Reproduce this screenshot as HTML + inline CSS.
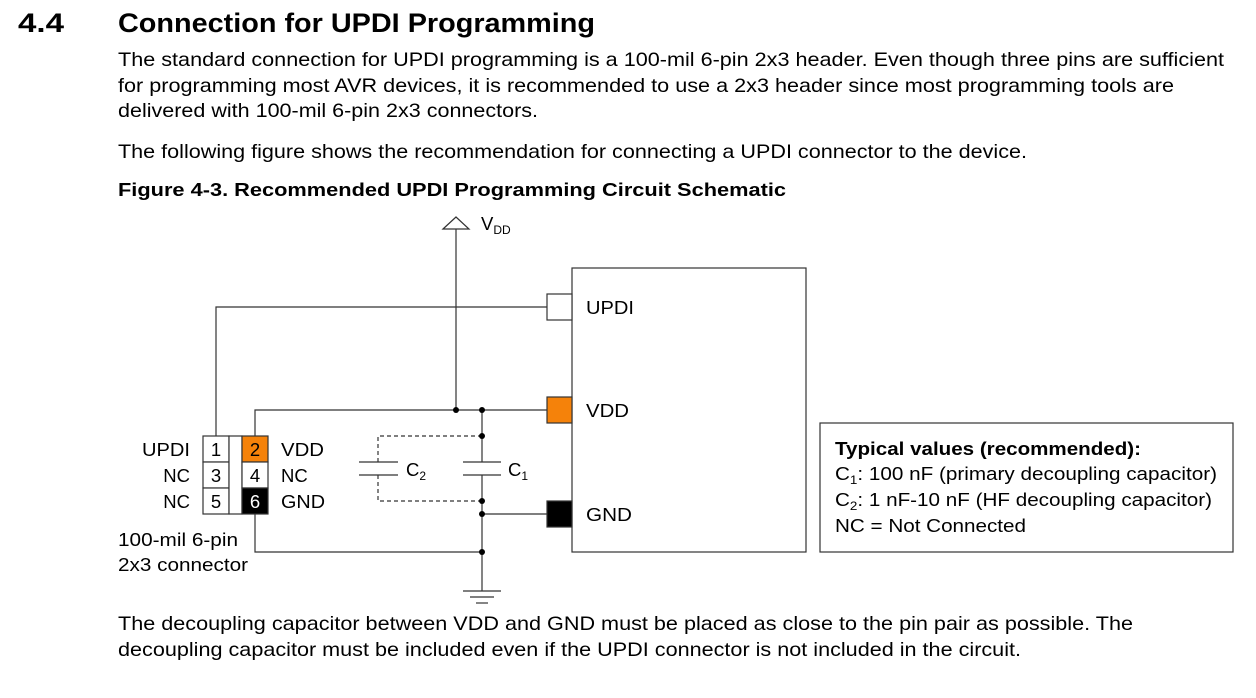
<!DOCTYPE html>
<html><head><meta charset="utf-8"><style>
html,body{margin:0;padding:0;background:#fff;}
svg{display:block;font-family:"Liberation Sans",Arial,sans-serif;}
</style></head><body>
<svg width="1256" height="698" viewBox="0 0 1256 698" xmlns="http://www.w3.org/2000/svg">
<g fill="#000">
<text x="18" y="32" font-size="27" font-weight="bold" textLength="46" lengthAdjust="spacingAndGlyphs">4.4</text>
<text x="118" y="32" font-size="27" font-weight="bold" textLength="477" lengthAdjust="spacingAndGlyphs">Connection for UPDI Programming</text>
<g font-size="19.5">
<text x="118" y="66" textLength="1106" lengthAdjust="spacingAndGlyphs">The standard connection for UPDI programming is a 100-mil 6-pin 2x3 header. Even though three pins are sufficient</text>
<text x="118" y="92" textLength="1056" lengthAdjust="spacingAndGlyphs">for programming most AVR devices, it is recommended to use a 2x3 header since most programming tools are</text>
<text x="118" y="117" textLength="420" lengthAdjust="spacingAndGlyphs">delivered with 100-mil 6-pin 2x3 connectors.</text>
<text x="118" y="158" textLength="909" lengthAdjust="spacingAndGlyphs">The following figure shows the recommendation for connecting a UPDI connector to the device.</text>
<text x="118" y="630" textLength="1015" lengthAdjust="spacingAndGlyphs">The decoupling capacitor between VDD and GND must be placed as close to the pin pair as possible. The</text>
<text x="118" y="656" textLength="903" lengthAdjust="spacingAndGlyphs">decoupling capacitor must be included even if the UPDI connector is not included in the circuit.</text>
</g>
<text x="118" y="196" font-size="18.5" font-weight="bold" textLength="668" lengthAdjust="spacingAndGlyphs">Figure 4-3.  Recommended UPDI Programming Circuit Schematic</text>
</g>
<g stroke="#333" stroke-width="1.2" fill="none">
<polygon points="443,229 456,217 469,229" fill="#fff"/>
<line x1="456" y1="229" x2="456" y2="410"/>
<polyline points="216,436 216,307 547,307"/>
<polyline points="255,436 255,410 547,410"/>
<polyline points="255,514 255,552 482,552"/>
<line x1="482" y1="410" x2="482" y2="462"/>
<line x1="482" y1="475" x2="482" y2="591"/>
<line x1="482" y1="514" x2="547" y2="514"/>
<line x1="463" y1="462" x2="501" y2="462"/>
<line x1="463" y1="475" x2="501" y2="475"/>
<line x1="359" y1="462" x2="398" y2="462"/>
<line x1="359" y1="475" x2="398" y2="475"/>
<g stroke-dasharray="4,3">
<polyline points="482,436 378,436 378,462"/>
<polyline points="482,501 378,501 378,475"/>
</g>
<line x1="463" y1="591" x2="501" y2="591"/>
<line x1="470" y1="597" x2="494" y2="597"/>
<line x1="476" y1="603" x2="488" y2="603"/>
<rect x="572" y="268" width="234" height="284" fill="#fff"/>
<rect x="547" y="294" width="25" height="26" fill="#fff"/>
<rect x="547" y="397" width="25" height="26" fill="#f5820a"/>
<rect x="547" y="501" width="25" height="26" fill="#000"/>
<rect x="820" y="423" width="413" height="129"/>
<rect x="203" y="436" width="26" height="26" fill="#fff"/>
<rect x="203" y="462" width="26" height="26" fill="#fff"/>
<rect x="203" y="488" width="26" height="26" fill="#fff"/>
<rect x="229" y="436" width="13" height="78" fill="#fff"/>
<rect x="242" y="436" width="26" height="26" fill="#f5820a"/>
<rect x="242" y="462" width="26" height="26" fill="#fff"/>
<rect x="242" y="488" width="26" height="26" fill="#000"/>
</g>
<g fill="#000">
<circle cx="456" cy="410" r="3"/><circle cx="482" cy="410" r="3"/>
<circle cx="482" cy="436" r="3"/><circle cx="482" cy="501" r="3"/>
<circle cx="482" cy="514" r="3"/><circle cx="482" cy="552" r="3"/>
</g>
<g font-size="18.5" fill="#000">
<text x="481" y="230">V<tspan font-size="12" dy="4">DD</tspan></text>
<text x="142" y="456" textLength="48" lengthAdjust="spacingAndGlyphs">UPDI</text>
<text x="190" y="482" text-anchor="end">NC</text>
<text x="190" y="508" text-anchor="end">NC</text>
<text x="216" y="456" text-anchor="middle">1</text>
<text x="216" y="482" text-anchor="middle">3</text>
<text x="216" y="508" text-anchor="middle">5</text>
<text x="255" y="456" text-anchor="middle">2</text>
<text x="255" y="482" text-anchor="middle">4</text>
<text x="255" y="508" text-anchor="middle" fill="#fff">6</text>
<text x="281" y="456" textLength="43" lengthAdjust="spacingAndGlyphs">VDD</text>
<text x="281" y="482">NC</text>
<text x="281" y="508" textLength="44" lengthAdjust="spacingAndGlyphs">GND</text>
<text x="118" y="546" textLength="120" lengthAdjust="spacingAndGlyphs">100-mil 6-pin</text>
<text x="118" y="571" textLength="130" lengthAdjust="spacingAndGlyphs">2x3 connector</text>
<text x="406" y="476">C<tspan font-size="12" dy="4">2</tspan></text>
<text x="508" y="476">C<tspan font-size="12" dy="4">1</tspan></text>
<text x="586" y="314" textLength="48" lengthAdjust="spacingAndGlyphs">UPDI</text>
<text x="586" y="417" textLength="43" lengthAdjust="spacingAndGlyphs">VDD</text>
<text x="586" y="521" textLength="46" lengthAdjust="spacingAndGlyphs">GND</text>
<text x="835" y="455" font-weight="bold" textLength="306" lengthAdjust="spacingAndGlyphs">Typical values (recommended):</text>
<text x="835" y="480" textLength="382" lengthAdjust="spacingAndGlyphs">C<tspan font-size="12" dy="4">1</tspan><tspan dy="-4">: 100 nF (primary decoupling capacitor)</tspan></text>
<text x="835" y="506" textLength="377" lengthAdjust="spacingAndGlyphs">C<tspan font-size="12" dy="4">2</tspan><tspan dy="-4">: 1 nF-10 nF (HF decoupling capacitor)</tspan></text>
<text x="835" y="532" textLength="191" lengthAdjust="spacingAndGlyphs">NC = Not Connected</text>
</g>
</svg>
</body></html>
